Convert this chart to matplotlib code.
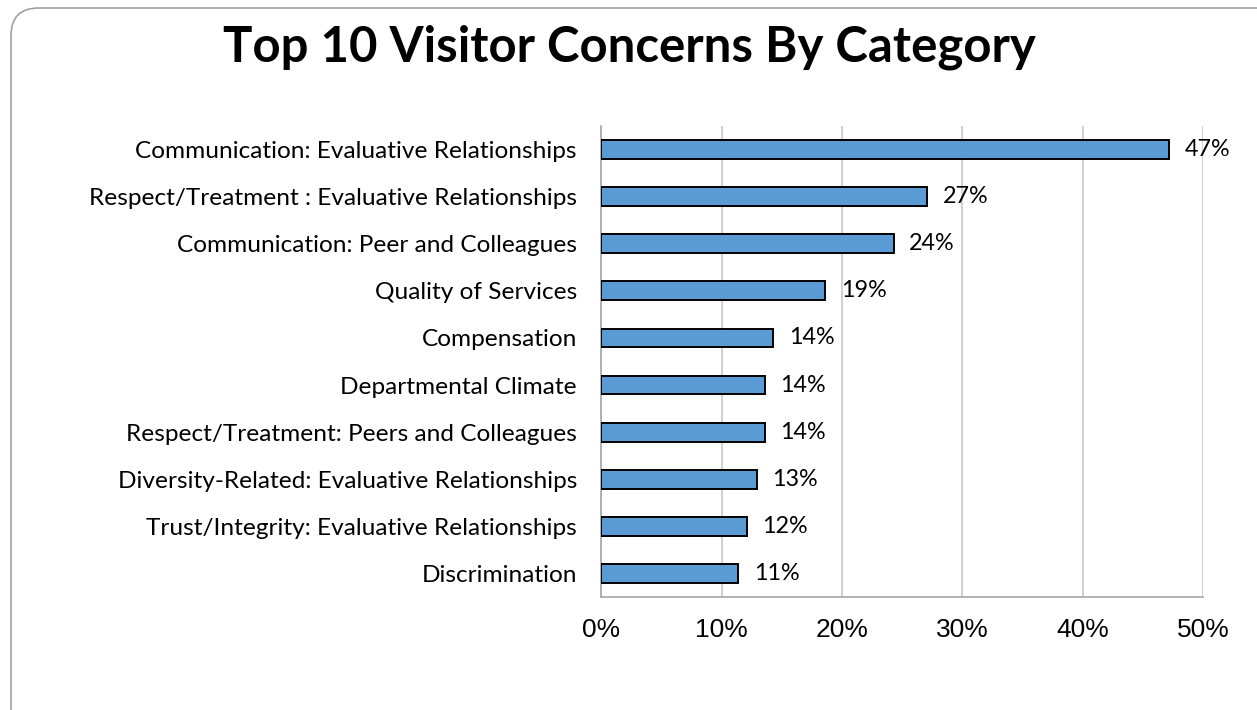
"""
   Horizontal bar chart of the top ten visitor concerns, grouped by category.
"""
import matplotlib
matplotlib.use("Agg")
import matplotlib.pyplot as plt
from matplotlib.patches import FancyBboxPatch
from matplotlib.ticker import FuncFormatter

# Categories, top to bottom, and the share of visitors raising each one (percent)
categories = [
    "Communication: Evaluative Relationships",
    "Respect/Treatment : Evaluative Relationships",
    "Communication: Peer and Colleagues",
    "Quality of Services",
    "Compensation",
    "Departmental Climate",
    "Respect/Treatment: Peers and Colleagues",
    "Diversity-Related: Evaluative Relationships",
    "Trust/Integrity: Evaluative Relationships",
    "Discrimination",
]
shares = [47.2, 27.1, 24.3, 18.6, 14.3, 13.6, 13.6, 12.9, 12.1, 11.4]
x_ticks = [0, 10, 20, 30, 40, 50]

label_font = ["Lato", "DejaVu Sans"]
tick_font = ["Liberation Sans", "DejaVu Sans"]

W, H = 1257, 710
fig = plt.figure(figsize=(W / 100, H / 100), dpi=100)

# Rounded frame around the whole slide (runs off the right and bottom edges)
frame = FancyBboxPatch((11 / W, -0.2), 1.2, (1 - 8 / H) + 0.2,
                       boxstyle="round,pad=0,rounding_size=0.022",
                       transform=fig.transFigure, facecolor="white",
                       edgecolor="#a0a0a0", linewidth=1.2,
                       mutation_aspect=W / H, zorder=-10)
fig.patches.append(frame)

ax = fig.add_axes([601.3 / W, 1 - 597 / H, (1203 - 601.3) / W, (597 - 126) / H])
ax.set_facecolor("none")

ypos = list(range(len(categories)))
ax.barh(ypos, shares, height=0.40, color="#5b9bd5", edgecolor="black",
        linewidth=1.4, zorder=3)

# Value labels to the right of each bar
for y, v in zip(ypos, shares):
    ax.text(v + 1.3, y, f"{v:.0f}%", va="center", ha="left",
            fontsize=16.8, family=label_font, color="black")

ax.set_ylim(len(categories) - 0.5, -0.5)
ax.set_yticks(ypos)
ax.set_yticklabels(categories, family=label_font, fontsize=17.6)
ax.set_xlim(0, 50)
ax.set_xticks(x_ticks)
ax.xaxis.set_major_formatter(FuncFormatter(lambda v, p: f"{v:.0f}%"))
for t in ax.get_xticklabels():
    t.set_family(tick_font)
    t.set_fontsize(19)

ax.tick_params(axis="both", length=0)
ax.tick_params(axis="y", pad=17.5)
ax.tick_params(axis="x", pad=15)
ax.grid(axis="x", color="#c8c8c8", linewidth=1.2, zorder=0)

for side in ["top", "right"]:
    ax.spines[side].set_visible(False)
for side in ["left", "bottom"]:
    ax.spines[side].set_color("#a6a6a6")
    ax.spines[side].set_linewidth(1.2)

fig.text(629 / W, 1 - 47 / H, "Top 10 Visitor Concerns By Category",
         ha="center", va="center", fontsize=35.4, fontweight="bold",
         family=label_font)

fig.savefig("out.png", dpi=100)
